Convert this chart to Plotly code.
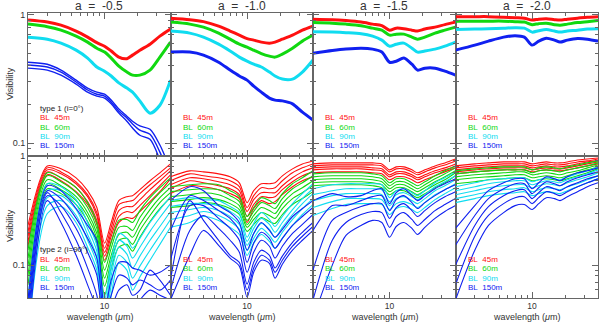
import math
import plotly.graph_objects as go
from plotly.subplots import make_subplots

# ---------------- data (visibility vs wavelength in micron) ----------------
wavelength = [2, 3, 4, 5.5, 7, 8.5, 10, 11.5, 13.5, 16, 18, 21, 26, 32, 40]
alpha_labels = ["-0.5", "-1.0", "-1.5", "-2.0"]
baseline_labels = ["BL 45m", "BL 60m", "BL 90m", "BL 150m"]
type_labels = ["type 1 (i=0\u00b0)", "type 2 (i=90\u00b0)"]
x_tick_vals = [10]
y_tick_vals = [0.1, 1]

# type 1 (i=0 deg), top row
t1_m05_45 = [[0.907, 0.875, 0.828, 0.745, 0.668, 0.605, 0.568, 0.521, 0.467, 0.454, 0.484, 0.529, 0.589, 0.680, 0.772]]
t1_m05_60 = [[0.844, 0.806, 0.757, 0.680, 0.611, 0.548, 0.511, 0.459, 0.397, 0.357, 0.338, 0.338, 0.370, 0.467, 0.611]]
t1_m05_90 = [[0.668, 0.644, 0.600, 0.529, 0.459, 0.391, 0.363, 0.333, 0.294, 0.268, 0.249, 0.213, 0.171, 0.197, 0.309]]
t1_m05_150 = [
    [0.426, 0.411, 0.370, 0.309, 0.268, 0.249, 0.240, 0.216, 0.184, 0.162, 0.148, 0.136, 0.128, 0.0965, 0.0619],
    [0.405, 0.391, 0.357, 0.299, 0.259, 0.240, 0.232, 0.209, 0.177, 0.157, 0.141, 0.126, 0.117, 0.085, 0.051],
    [0.383, 0.370, 0.338, 0.288, 0.249, 0.232, 0.224, 0.202, 0.171, 0.148, 0.131, 0.115, 0.107, 0.074, 0.043]]

t1_m10_45 = [[0.939, 0.914, 0.882, 0.814, 0.745, 0.693, 0.651, 0.633, 0.611, 0.600, 0.611, 0.644, 0.693, 0.757, 0.814]]
t1_m10_60 = [[0.875, 0.844, 0.799, 0.718, 0.644, 0.589, 0.558, 0.529, 0.497, 0.475, 0.467, 0.493, 0.548, 0.622, 0.693]]
t1_m10_90 = [[0.745, 0.718, 0.668, 0.589, 0.521, 0.467, 0.434, 0.411, 0.391, 0.357, 0.333, 0.315, 0.315, 0.357, 0.443]]
t1_m10_150 = [[0.511, 0.511, 0.484, 0.426, 0.370, 0.333, 0.309, 0.278, 0.249, 0.224, 0.216, 0.213, 0.202, 0.174, 0.151]]

t1_m15_45 = [[0.922, 0.914, 0.899, 0.875, 0.844, 0.821, 0.757, 0.785, 0.778, 0.757, 0.745, 0.772, 0.799, 0.836, 0.875]]
t1_m15_60 = [[0.867, 0.858, 0.844, 0.821, 0.785, 0.757, 0.693, 0.705, 0.705, 0.668, 0.644, 0.668, 0.718, 0.757, 0.799]]
t1_m15_90 = [[0.737, 0.731, 0.724, 0.711, 0.680, 0.633, 0.568, 0.589, 0.600, 0.548, 0.511, 0.521, 0.539, 0.568, 0.611]]
t1_m15_150 = [[0.501, 0.525, 0.539, 0.548, 0.539, 0.511, 0.426, 0.434, 0.459, 0.411, 0.370, 0.383, 0.383, 0.363, 0.338]]

t1_m20_45 = [[0.965, 0.965, 0.965, 0.956, 0.947, 0.939, 0.907, 0.922, 0.930, 0.914, 0.907, 0.922, 0.939, 0.956, 0.965]]
t1_m20_60 = [[0.890, 0.890, 0.890, 0.890, 0.882, 0.875, 0.836, 0.851, 0.858, 0.836, 0.828, 0.844, 0.867, 0.882, 0.899]]
t1_m20_90 = [[0.765, 0.772, 0.778, 0.785, 0.792, 0.785, 0.731, 0.750, 0.765, 0.745, 0.731, 0.745, 0.757, 0.772, 0.778]]
t1_m20_150 = [[0.529, 0.579, 0.622, 0.668, 0.686, 0.668, 0.579, 0.622, 0.656, 0.633, 0.611, 0.633, 0.651, 0.644, 0.622]]

# type 2 (i=90 deg), bottom row
t2_m05_45 = [
    [0.231, 0.811, 0.762, 0.631, 0.481, 0.337, 0.159, 0.246, 0.390, 0.424, 0.433, 0.491, 0.593, 0.701, 0.846],
    [0.204, 0.778, 0.715, 0.580, 0.442, 0.303, 0.143, 0.222, 0.359, 0.382, 0.390, 0.452, 0.545, 0.644, 0.778],
    [0.184, 0.746, 0.686, 0.557, 0.424, 0.285, 0.131, 0.200, 0.316, 0.344, 0.344, 0.398, 0.491, 0.593, 0.731],
    [0.165, 0.715, 0.631, 0.512, 0.382, 0.257, 0.121, 0.184, 0.279, 0.310, 0.303, 0.351, 0.433, 0.534, 0.672],
    [0.149, 0.672, 0.593, 0.471, 0.359, 0.236, 0.111, 0.165, 0.246, 0.273, 0.268, 0.310, 0.382, 0.471, 0.618]]
t2_m05_60 = [
    [0.137, 0.701, 0.631, 0.512, 0.374, 0.246, 0.106, 0.162, 0.257, 0.262, 0.246, 0.316, 0.415, 0.512, 0.631],
    [0.116, 0.658, 0.580, 0.461, 0.337, 0.217, 0.090, 0.143, 0.222, 0.226, 0.208, 0.273, 0.366, 0.461, 0.568],
    [0.098, 0.605, 0.534, 0.424, 0.303, 0.195, 0.076, 0.123, 0.191, 0.200, 0.180, 0.236, 0.323, 0.415, 0.512],
    [0.081, 0.557, 0.491, 0.390, 0.279, 0.176, 0.064, 0.109, 0.169, 0.176, 0.155, 0.208, 0.285, 0.374, 0.461],
    [0.066, 0.501, 0.452, 0.359, 0.251, 0.159, 0.053, 0.094, 0.146, 0.155, 0.134, 0.180, 0.251, 0.330, 0.415]]
t2_m05_90 = [
    [0.048, 0.557, 0.523, 0.398, 0.246, 0.152, 0.048, 0.111, 0.195, 0.176, 0.143, 0.176, 0.246, 0.323, 0.424],
    [0.039, 0.481, 0.481, 0.359, 0.217, 0.134, 0.039, 0.094, 0.169, 0.149, 0.116, 0.146, 0.204, 0.273, 0.366],
    [0.032, 0.415, 0.433, 0.323, 0.191, 0.118, 0.032, 0.080, 0.146, 0.126, 0.094, 0.121, 0.169, 0.226, 0.310],
    [0.026, 0.351, 0.390, 0.285, 0.169, 0.104, 0.026, 0.066, 0.123, 0.106, 0.076, 0.098, 0.137, 0.187, 0.262],
    [0.021, 0.297, 0.344, 0.246, 0.146, 0.090, 0.021, 0.053, 0.104, 0.090, 0.059, 0.078, 0.111, 0.155, 0.222]]
t2_m05_150 = [
    [0.048, 0.534, 0.481, 0.330, 0.231, 0.169, 0.039, 0.073, 0.106, 0.106, 0.094, 0.090, 0.081, 0.086, 0.100],
    [0.039, 0.481, 0.407, 0.268, 0.176, 0.116, 0.032, 0.053, 0.081, 0.076, 0.066, 0.073, 0.066, 0.059, 0.073],
    [0.032, 0.433, 0.351, 0.217, 0.131, 0.081, 0.026, 0.039, 0.059, 0.066, 0.053, 0.059, 0.090, 0.073, 0.053],
    [0.026, 0.461, 0.303, 0.169, 0.094, 0.053, 0.021, 0.032, 0.048, 0.048, 0.039, 0.048, 0.059, 0.053, 0.048],
    [0.021, 0.390, 0.246, 0.123, 0.066, 0.039, 0.017, 0.026, 0.039, 0.039, 0.032, 0.039, 0.048, 0.043, 0.039]]

t2_m10_45 = [
    [0.644, 0.731, 0.715, 0.686, 0.644, 0.568, 0.374, 0.481, 0.557, 0.557, 0.568, 0.658, 0.762, 0.846, 0.901],
    [0.593, 0.686, 0.658, 0.631, 0.593, 0.523, 0.337, 0.433, 0.512, 0.501, 0.512, 0.593, 0.701, 0.778, 0.846],
    [0.545, 0.631, 0.618, 0.580, 0.545, 0.481, 0.310, 0.398, 0.461, 0.461, 0.461, 0.534, 0.631, 0.715, 0.778],
    [0.501, 0.593, 0.568, 0.534, 0.501, 0.442, 0.279, 0.359, 0.424, 0.415, 0.424, 0.491, 0.580, 0.658, 0.715],
    [0.452, 0.534, 0.523, 0.491, 0.452, 0.407, 0.246, 0.330, 0.390, 0.366, 0.382, 0.442, 0.523, 0.593, 0.644]]
t2_m10_60 = [
    [0.523, 0.545, 0.557, 0.545, 0.481, 0.424, 0.279, 0.337, 0.415, 0.390, 0.366, 0.452, 0.557, 0.631, 0.731],
    [0.471, 0.491, 0.501, 0.491, 0.433, 0.382, 0.257, 0.310, 0.374, 0.351, 0.330, 0.407, 0.501, 0.568, 0.658],
    [0.424, 0.442, 0.461, 0.442, 0.398, 0.351, 0.236, 0.285, 0.337, 0.316, 0.297, 0.366, 0.452, 0.512, 0.593],
    [0.382, 0.398, 0.415, 0.398, 0.366, 0.323, 0.222, 0.262, 0.303, 0.285, 0.268, 0.330, 0.407, 0.461, 0.534],
    [0.337, 0.351, 0.374, 0.359, 0.330, 0.291, 0.204, 0.236, 0.273, 0.251, 0.241, 0.291, 0.359, 0.407, 0.471]]
t2_m10_90 = [
    [0.390, 0.415, 0.398, 0.390, 0.344, 0.303, 0.180, 0.241, 0.303, 0.262, 0.226, 0.279, 0.366, 0.452, 0.557],
    [0.344, 0.366, 0.366, 0.351, 0.310, 0.268, 0.165, 0.217, 0.268, 0.236, 0.200, 0.246, 0.323, 0.407, 0.501],
    [0.303, 0.323, 0.337, 0.316, 0.279, 0.236, 0.152, 0.195, 0.241, 0.213, 0.180, 0.222, 0.291, 0.366, 0.452],
    [0.262, 0.285, 0.310, 0.285, 0.251, 0.213, 0.137, 0.176, 0.217, 0.187, 0.162, 0.200, 0.262, 0.330, 0.407],
    [0.222, 0.246, 0.279, 0.257, 0.222, 0.191, 0.123, 0.159, 0.191, 0.165, 0.143, 0.176, 0.231, 0.291, 0.359]]
t2_m10_150 = [
    [0.390, 0.523, 0.481, 0.351, 0.303, 0.246, 0.137, 0.195, 0.246, 0.208, 0.180, 0.213, 0.279, 0.330, 0.390],
    [0.208, 0.433, 0.390, 0.316, 0.268, 0.208, 0.106, 0.159, 0.200, 0.176, 0.143, 0.176, 0.231, 0.279, 0.337],
    [0.111, 0.351, 0.351, 0.268, 0.217, 0.169, 0.086, 0.131, 0.169, 0.149, 0.116, 0.149, 0.195, 0.236, 0.291],
    [0.059, 0.208, 0.285, 0.217, 0.169, 0.131, 0.067, 0.106, 0.137, 0.123, 0.094, 0.121, 0.162, 0.200, 0.246],
    [0.048, 0.123, 0.208, 0.152, 0.116, 0.098, 0.051, 0.086, 0.111, 0.104, 0.076, 0.102, 0.137, 0.169, 0.208],
    [0.073, 0.390, 0.257, 0.169, 0.123, 0.106, 0.059, 0.094, 0.123, 0.111, 0.086, 0.111, 0.149, 0.184, 0.226]]

t2_m15_45 = [
    [0.846, 0.864, 0.864, 0.864, 0.864, 0.846, 0.746, 0.794, 0.794, 0.746, 0.701, 0.746, 0.811, 0.864, 0.939],
    [0.811, 0.828, 0.828, 0.828, 0.828, 0.811, 0.715, 0.762, 0.762, 0.715, 0.672, 0.715, 0.778, 0.828, 0.901],
    [0.778, 0.794, 0.794, 0.794, 0.778, 0.762, 0.672, 0.715, 0.715, 0.672, 0.631, 0.672, 0.731, 0.778, 0.846],
    [0.746, 0.762, 0.762, 0.762, 0.746, 0.731, 0.644, 0.686, 0.686, 0.644, 0.605, 0.644, 0.701, 0.746, 0.811],
    [0.701, 0.715, 0.715, 0.715, 0.701, 0.686, 0.605, 0.644, 0.644, 0.605, 0.568, 0.605, 0.658, 0.715, 0.778]]
t2_m15_60 = [
    [0.686, 0.701, 0.701, 0.701, 0.686, 0.658, 0.568, 0.618, 0.618, 0.568, 0.534, 0.580, 0.658, 0.731, 0.811],
    [0.644, 0.658, 0.658, 0.658, 0.644, 0.618, 0.534, 0.580, 0.580, 0.534, 0.501, 0.545, 0.618, 0.686, 0.778],
    [0.605, 0.618, 0.618, 0.618, 0.605, 0.580, 0.501, 0.545, 0.545, 0.501, 0.471, 0.512, 0.580, 0.644, 0.731],
    [0.568, 0.580, 0.580, 0.580, 0.568, 0.545, 0.471, 0.512, 0.512, 0.471, 0.442, 0.481, 0.545, 0.605, 0.701],
    [0.534, 0.545, 0.545, 0.545, 0.534, 0.512, 0.442, 0.481, 0.481, 0.442, 0.415, 0.452, 0.512, 0.568, 0.658]]
t2_m15_90 = [
    [0.501, 0.545, 0.557, 0.557, 0.557, 0.545, 0.415, 0.481, 0.501, 0.461, 0.433, 0.481, 0.568, 0.631, 0.715],
    [0.442, 0.481, 0.501, 0.501, 0.501, 0.491, 0.382, 0.442, 0.461, 0.424, 0.398, 0.442, 0.523, 0.580, 0.658],
    [0.390, 0.433, 0.452, 0.452, 0.452, 0.442, 0.351, 0.407, 0.424, 0.390, 0.366, 0.407, 0.481, 0.534, 0.605],
    [0.337, 0.382, 0.407, 0.407, 0.407, 0.398, 0.323, 0.366, 0.382, 0.359, 0.337, 0.374, 0.442, 0.491, 0.557],
    [0.285, 0.330, 0.359, 0.366, 0.366, 0.359, 0.291, 0.330, 0.344, 0.323, 0.303, 0.337, 0.398, 0.452, 0.512]]
t2_m15_150 = [
    [0.390, 0.452, 0.424, 0.433, 0.481, 0.501, 0.366, 0.461, 0.501, 0.433, 0.390, 0.433, 0.501, 0.557, 0.618],
    [0.208, 0.351, 0.351, 0.390, 0.424, 0.433, 0.316, 0.398, 0.433, 0.374, 0.330, 0.374, 0.433, 0.491, 0.545],
    [0.090, 0.257, 0.303, 0.344, 0.366, 0.366, 0.268, 0.337, 0.366, 0.316, 0.279, 0.316, 0.374, 0.424, 0.471],
    [0.048, 0.169, 0.246, 0.291, 0.310, 0.303, 0.222, 0.279, 0.303, 0.262, 0.231, 0.262, 0.316, 0.359, 0.407],
    [0.032, 0.100, 0.187, 0.231, 0.257, 0.246, 0.180, 0.226, 0.246, 0.217, 0.191, 0.222, 0.268, 0.310, 0.351]]

t2_m20_45 = [
    [0.811, 0.846, 0.864, 0.882, 0.882, 0.882, 0.846, 0.864, 0.882, 0.864, 0.864, 0.882, 0.920, 0.939, 0.959],
    [0.778, 0.811, 0.828, 0.846, 0.846, 0.846, 0.811, 0.828, 0.846, 0.828, 0.828, 0.846, 0.882, 0.901, 0.939],
    [0.746, 0.778, 0.794, 0.811, 0.811, 0.811, 0.778, 0.794, 0.811, 0.794, 0.794, 0.811, 0.846, 0.882, 0.901],
    [0.715, 0.746, 0.762, 0.778, 0.778, 0.778, 0.746, 0.762, 0.778, 0.762, 0.762, 0.778, 0.811, 0.846, 0.882],
    [0.686, 0.715, 0.731, 0.746, 0.746, 0.746, 0.715, 0.731, 0.746, 0.731, 0.731, 0.746, 0.778, 0.811, 0.846]]
t2_m20_60 = [
    [0.731, 0.762, 0.778, 0.794, 0.794, 0.794, 0.746, 0.778, 0.794, 0.778, 0.762, 0.794, 0.828, 0.864, 0.901],
    [0.686, 0.715, 0.731, 0.746, 0.746, 0.746, 0.701, 0.731, 0.746, 0.731, 0.715, 0.746, 0.778, 0.811, 0.864],
    [0.644, 0.672, 0.686, 0.701, 0.715, 0.715, 0.672, 0.686, 0.701, 0.686, 0.672, 0.701, 0.731, 0.778, 0.828],
    [0.605, 0.631, 0.644, 0.658, 0.672, 0.672, 0.631, 0.644, 0.658, 0.644, 0.631, 0.658, 0.701, 0.746, 0.794],
    [0.557, 0.580, 0.605, 0.618, 0.631, 0.631, 0.593, 0.605, 0.618, 0.605, 0.593, 0.618, 0.658, 0.701, 0.762]]
t2_m20_90 = [
    [0.523, 0.568, 0.605, 0.618, 0.631, 0.631, 0.580, 0.605, 0.631, 0.618, 0.605, 0.644, 0.686, 0.731, 0.794],
    [0.481, 0.523, 0.557, 0.580, 0.593, 0.593, 0.545, 0.568, 0.593, 0.580, 0.568, 0.605, 0.644, 0.686, 0.746],
    [0.442, 0.481, 0.512, 0.534, 0.545, 0.545, 0.512, 0.534, 0.557, 0.545, 0.534, 0.568, 0.605, 0.644, 0.701],
    [0.407, 0.442, 0.471, 0.491, 0.501, 0.512, 0.471, 0.491, 0.512, 0.501, 0.491, 0.523, 0.557, 0.605, 0.658],
    [0.374, 0.407, 0.433, 0.452, 0.461, 0.471, 0.433, 0.452, 0.471, 0.461, 0.452, 0.481, 0.523, 0.568, 0.618]]
t2_m20_150 = [
    [0.217, 0.351, 0.481, 0.568, 0.618, 0.618, 0.501, 0.568, 0.644, 0.618, 0.593, 0.644, 0.701, 0.731, 0.778],
    [0.152, 0.285, 0.407, 0.501, 0.557, 0.557, 0.452, 0.512, 0.580, 0.557, 0.534, 0.580, 0.631, 0.672, 0.715],
    [0.100, 0.231, 0.344, 0.433, 0.481, 0.491, 0.407, 0.461, 0.523, 0.501, 0.481, 0.523, 0.568, 0.618, 0.658],
    [0.066, 0.184, 0.285, 0.366, 0.415, 0.424, 0.366, 0.415, 0.471, 0.452, 0.433, 0.471, 0.523, 0.568, 0.618],
    [0.048, 0.137, 0.231, 0.303, 0.351, 0.359, 0.323, 0.366, 0.415, 0.407, 0.390, 0.424, 0.471, 0.523, 0.568]]

# ---------------- figure ----------------
W, H = 600, 322
ML, MR, MT, MB = 28, 2, 13, 24
colors = ["#ff1010", "#10d810", "#10dcf0", "#1020f0"]
FONT = "Liberation Sans, Arial, Helvetica, sans-serif"
AX = "#666666"

panels = {
    (1, 1): [t1_m05_45, t1_m05_60, t1_m05_90, t1_m05_150],
    (1, 2): [t1_m10_45, t1_m10_60, t1_m10_90, t1_m10_150],
    (1, 3): [t1_m15_45, t1_m15_60, t1_m15_90, t1_m15_150],
    (1, 4): [t1_m20_45, t1_m20_60, t1_m20_90, t1_m20_150],
    (2, 1): [t2_m05_45, t2_m05_60, t2_m05_90, t2_m05_150],
    (2, 2): [t2_m10_45, t2_m10_60, t2_m10_90, t2_m10_150],
    (2, 3): [t2_m15_45, t2_m15_60, t2_m15_90, t2_m15_150],
    (2, 4): [t2_m20_45, t2_m20_60, t2_m20_90, t2_m20_150],
}

fig = make_subplots(rows=2, cols=4, horizontal_spacing=0, vertical_spacing=0)

for (r, c), bundles in panels.items():
    for lines, col in zip(bundles, colors):
        if r == 1:
            w = 3.0 if len(lines) == 1 else 1.4
        else:
            w = 1.1
        for vals in lines:
            fig.add_trace(go.Scatter(x=wavelength, y=vals, mode="lines",
                                     line=dict(color=col, width=w, shape="spline", smoothing=0.8),
                                     showlegend=False, hoverinfo="skip"), row=r, col=c)

y_ranges = {1: [math.log10(0.08), math.log10(1.03)], 2: [math.log10(0.05), math.log10(1.01)]}
x_minor = [2, 3, 4, 5, 6, 7, 8, 9, 20, 30, 40]
y_minor = [0.05, 0.06, 0.07, 0.08, 0.09, 0.2, 0.3, 0.4, 0.5, 0.6, 0.7, 0.8, 0.9]

for r in (1, 2):
    for c in range(1, 5):
        fig.update_xaxes(type="log", range=[math.log10(2), math.log10(40)], automargin=False,
                         showline=True, linecolor=AX, linewidth=1, mirror="allticks",
                         ticks="inside", ticklen=6, tickcolor=AX, tickwidth=1,
                         tickvals=x_tick_vals, ticktext=[str(v) for v in x_tick_vals],
                         showticklabels=(r == 2), showgrid=False, zeroline=False,
                         tickfont=dict(family=FONT, size=8.5, color="#333333"),
                         minor=dict(tickvals=x_minor, ticks="inside", ticklen=3,
                                    tickcolor=AX, showgrid=False),
                         row=r, col=c)
        fig.update_yaxes(type="log", range=y_ranges[r], automargin=False,
                         showline=True, linecolor=AX, linewidth=1, mirror="allticks",
                         ticks="inside", ticklen=6, tickcolor=AX, tickwidth=1,
                         tickvals=y_tick_vals, ticktext=["0.1", "1"],
                         showticklabels=(c == 1), showgrid=False, zeroline=False,
                         tickfont=dict(family=FONT, size=9, color="#333333"),
                         minor=dict(tickvals=y_minor, ticks="inside", ticklen=3,
                                    tickcolor=AX, showgrid=False),
                         row=r, col=c)

PW = (W - ML - MR)
PH = (H - MT - MB)


def px(x):
    return (x - ML) / PW


def py(y):
    return (H - MB - y) / PH


ann = []
panel_w = PW / 4
for c, a in enumerate(alpha_labels):
    cx = ML + panel_w * (c + 0.5)
    ann.append(dict(x=px(cx), y=py(6), xref="paper", yref="paper", showarrow=False,
                    text="a\u00a0\u00a0=\u00a0\u00a0" + a, xanchor="center", yanchor="middle",
                    font=dict(family=FONT, size=12, color="#333333")))
    ann.append(dict(x=px(cx), y=py(316.5), xref="paper", yref="paper", showarrow=False,
                    text="wavelength (<i>\u03bc</i>m)", xanchor="center", yanchor="middle",
                    font=dict(family=FONT, size=9, color="#333333")))
    lx = ML + panel_w * c + 10
    for row, ys in ((1, [108, 117.5, 127, 136, 145]), (2, [249.5, 259.5, 268.5, 278, 287])):
        if c == 0:
            ann.append(dict(x=px(lx), y=py(ys[0]), xref="paper", yref="paper", showarrow=False,
                            text=type_labels[row - 1], xanchor="left", yanchor="middle",
                            font=dict(family=FONT, size=8, color="#222222")))
        for k, (lab, col) in enumerate(zip(baseline_labels, colors)):
            ann.append(dict(x=px(lx), y=py(ys[k + 1]), xref="paper", yref="paper", showarrow=False,
                            text=lab.replace(" ", "\u00a0\u00a0"), xanchor="left", yanchor="middle",
                            font=dict(family=FONT, size=8, color=col)))

for yc in (84, 226):
    ann.append(dict(x=px(10), y=py(yc), xref="paper", yref="paper", showarrow=False,
                    text="Visibility", textangle=-90, xanchor="center", yanchor="middle",
                    font=dict(family=FONT, size=9, color="#333333")))

fig.update_layout(width=W, height=H, margin=dict(l=ML, r=MR, t=MT, b=MB, autoexpand=False),
                  paper_bgcolor="white", plot_bgcolor="white", hovermode=False,
                  annotations=ann, showlegend=False,
                  font=dict(family=FONT, size=9, color="#333333"))

fig.write_html("out.html", config={"displayModeBar": False, "staticPlot": True},
               post_script="document.body.style.margin='0';document.body.style.padding='0';")
